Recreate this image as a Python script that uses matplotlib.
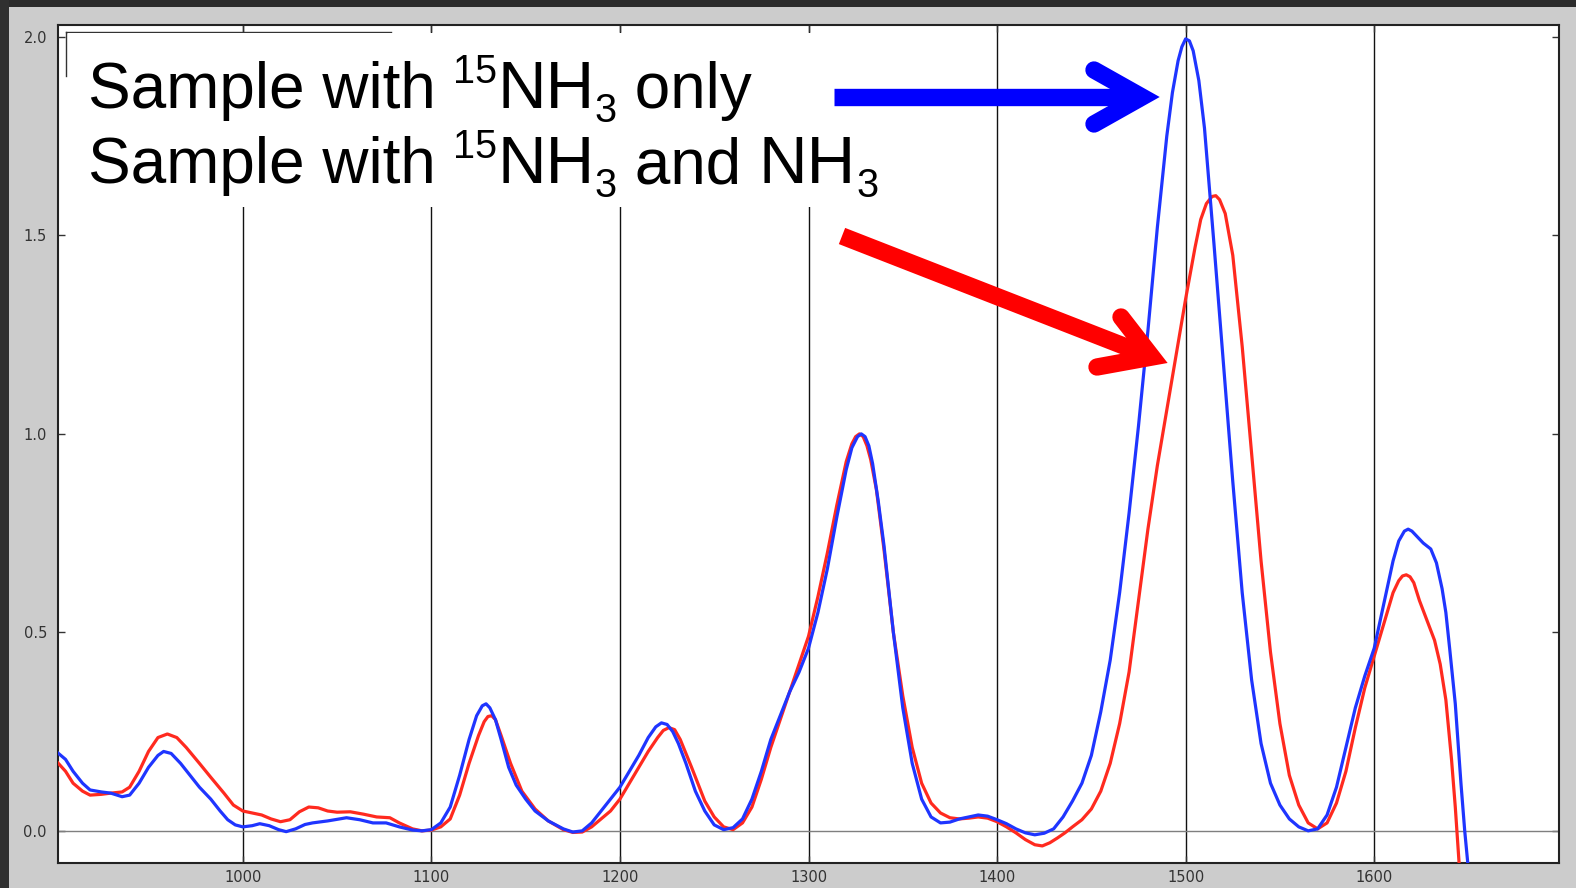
import matplotlib
matplotlib.use("Agg")
import matplotlib.pyplot as plt
from matplotlib.patches import Rectangle
from matplotlib.lines import Line2D

W, H, DPI = 1576, 888, 100

# Wavenumber (cm^-1) and intensity for the 15NH3-only sample
x_15nh3 = [902, 906, 910, 915, 919, 925, 930, 936, 940, 945, 950, 955, 958, 962, 967, 972, 977,
           983, 988, 992, 996, 1000, 1005, 1009, 1014, 1019, 1023, 1028, 1033, 1037, 1045, 1055,
           1062, 1069, 1076, 1083, 1090, 1095, 1100, 1105, 1110, 1115, 1120, 1124, 1127, 1129,
           1131, 1134, 1137, 1141, 1145, 1150, 1155, 1162, 1170, 1175, 1180, 1185, 1190, 1195,
           1200, 1205, 1210, 1215, 1219, 1222, 1225, 1228, 1231, 1235, 1240, 1245, 1250, 1255,
           1260, 1265, 1270, 1275, 1280, 1285, 1290, 1295, 1300, 1305, 1310, 1315, 1320, 1323,
           1326, 1328, 1330, 1332, 1334, 1337, 1340, 1345, 1350, 1355, 1360, 1365, 1370, 1375,
           1380, 1385, 1390, 1395, 1400, 1405, 1410, 1415, 1420, 1425, 1430, 1435, 1440, 1445,
           1450, 1455, 1460, 1465, 1470, 1475, 1480, 1485, 1490, 1493, 1496, 1498, 1500, 1502,
           1504, 1507, 1510, 1515, 1520, 1525, 1530, 1535, 1540, 1545, 1550, 1555, 1560, 1565,
           1570, 1575, 1580, 1585, 1590, 1595, 1600, 1605, 1610, 1613, 1616, 1618, 1620, 1623,
           1626, 1630, 1633, 1636, 1638, 1640, 1643, 1646, 1648, 1650, 1652]
y_15nh3 = [0.196, 0.18, 0.15, 0.12, 0.103, 0.098, 0.095, 0.086, 0.09, 0.12, 0.16, 0.19, 0.20,
           0.195, 0.17, 0.14, 0.11, 0.08, 0.05, 0.028, 0.015, 0.01, 0.013, 0.018, 0.013, 0.003,
           -0.002, 0.005, 0.016, 0.02, 0.025, 0.033, 0.028, 0.02, 0.02, 0.01, 0.002, 0.0, 0.003,
           0.02, 0.06, 0.14, 0.23, 0.29, 0.315, 0.32, 0.31, 0.28, 0.23, 0.16, 0.115, 0.08, 0.05,
           0.025, 0.005, -0.003, 0.0, 0.02, 0.05, 0.08, 0.11, 0.15, 0.19, 0.235, 0.262, 0.272,
           0.268, 0.25, 0.22, 0.17, 0.10, 0.05, 0.015, 0.003, 0.008, 0.03, 0.08, 0.15, 0.23,
           0.29, 0.35, 0.40, 0.46, 0.55, 0.66, 0.79, 0.91, 0.965, 0.993, 1.0, 0.993, 0.97, 0.925,
           0.83, 0.72, 0.50, 0.31, 0.17, 0.08, 0.035, 0.02, 0.022, 0.03, 0.035, 0.04, 0.037,
           0.028, 0.018, 0.005, -0.005, -0.01, -0.006, 0.005, 0.035, 0.075, 0.12, 0.19, 0.30,
           0.43, 0.60, 0.80, 1.02, 1.26, 1.52, 1.75, 1.86, 1.94, 1.975, 1.995, 1.99, 1.965, 1.89,
           1.77, 1.48, 1.18, 0.88, 0.60, 0.38, 0.22, 0.12, 0.065, 0.03, 0.01, 0.0, 0.005, 0.04,
           0.11, 0.21, 0.31, 0.39, 0.46, 0.57, 0.68, 0.73, 0.755, 0.76, 0.755, 0.74, 0.725, 0.71,
           0.675, 0.61, 0.55, 0.46, 0.32, 0.12, 0.0, -0.1, -0.2]

# Wavenumber (cm^-1) and intensity for the 15NH3 + NH3 sample
x_mixed = [902, 906, 910, 915, 919, 925, 930, 936, 940, 945, 950, 955, 960, 965, 970, 977, 983,
           990, 995, 1000, 1005, 1010, 1015, 1020, 1025, 1030, 1035, 1040, 1045, 1050, 1057, 1064,
           1071, 1078, 1083, 1090, 1095, 1100, 1105, 1110, 1115, 1120, 1125, 1128, 1130, 1132,
           1134, 1137, 1142, 1148, 1155, 1162, 1170, 1175, 1180, 1185, 1190, 1195, 1200, 1205,
           1210, 1215, 1220, 1223, 1226, 1229, 1232, 1238, 1245, 1250, 1255, 1260, 1265, 1270,
           1275, 1280, 1285, 1290, 1295, 1300, 1305, 1310, 1315, 1320, 1323, 1325, 1327, 1329,
           1331, 1333, 1336, 1340, 1345, 1350, 1355, 1360, 1365, 1370, 1375, 1380, 1385, 1390,
           1395, 1400, 1405, 1410, 1415, 1420, 1424, 1428, 1432, 1436, 1440, 1445, 1450, 1455,
           1460, 1465, 1470, 1475, 1480, 1485, 1490, 1495, 1500, 1505, 1508, 1511, 1514, 1516,
           1518, 1521, 1525, 1530, 1535, 1540, 1545, 1550, 1555, 1560, 1565, 1570, 1575, 1580,
           1585, 1590, 1595, 1600, 1605, 1610, 1613, 1615, 1617, 1619, 1621, 1624, 1628, 1632,
           1635, 1638, 1641, 1643, 1645, 1647]
y_mixed = [0.171, 0.15, 0.12, 0.10, 0.09, 0.092, 0.095, 0.098, 0.11, 0.15, 0.20, 0.235, 0.244,
           0.235, 0.21, 0.17, 0.135, 0.095, 0.065, 0.05, 0.045, 0.04, 0.03, 0.023, 0.028, 0.048,
           0.06, 0.058, 0.05, 0.047, 0.048, 0.042, 0.035, 0.033, 0.02, 0.005, 0.0, 0.002, 0.01,
           0.03, 0.09, 0.17, 0.24, 0.275, 0.288, 0.29, 0.28, 0.24, 0.17, 0.10, 0.055, 0.025,
           0.003, -0.004, -0.003, 0.01, 0.03, 0.05, 0.08, 0.12, 0.16, 0.20, 0.235, 0.253, 0.26,
           0.255, 0.23, 0.16, 0.075, 0.035, 0.01, 0.003, 0.02, 0.06, 0.13, 0.21, 0.28, 0.35,
           0.42, 0.49, 0.59, 0.70, 0.82, 0.93, 0.975, 0.993, 1.0, 0.993, 0.97, 0.935, 0.86, 0.71,
           0.50, 0.34, 0.21, 0.12, 0.07, 0.045, 0.033, 0.03, 0.032, 0.035, 0.032, 0.023, 0.01,
           -0.005, -0.022, -0.035, -0.038, -0.03, -0.018, -0.005, 0.01, 0.028, 0.055, 0.10, 0.17,
           0.27, 0.40, 0.58, 0.76, 0.92, 1.06, 1.20, 1.34, 1.47, 1.54, 1.58, 1.598, 1.60, 1.59,
           1.555, 1.45, 1.22, 0.95, 0.68, 0.45, 0.27, 0.14, 0.065, 0.02, 0.005, 0.02, 0.07, 0.15,
           0.26, 0.36, 0.44, 0.52, 0.60, 0.63, 0.642, 0.645, 0.64, 0.625, 0.58, 0.53, 0.48, 0.42,
           0.33, 0.18, 0.06, -0.08, -0.2]

x_ticks = [1000, 1100, 1200, 1300, 1400, 1500, 1600]
y_ticks = [0.0, 0.5, 1.0, 1.5, 2.0]


def px_x(p):
    return p / W


def px_y(p):
    return 1 - p / H


fig = plt.figure(figsize=(W / DPI, H / DPI), dpi=DPI, facecolor="#cccccc")

# dark window border strips
fig.patches.append(Rectangle((0, px_y(7)), 1, 7 / H, transform=fig.transFigure,
                             facecolor="#2b2b2b", edgecolor="none", zorder=0))
fig.patches.append(Rectangle((0, 0), 8.5 / W, 1, transform=fig.transFigure,
                             facecolor="#303030", edgecolor="none", zorder=0))

left, right, top, bottom = 58, 1559, 25, 863
ax = fig.add_axes([px_x(left), px_y(bottom), (right - left) / W, (bottom - top) / H])
ax.set_facecolor("white")

ax.plot(x_mixed, y_mixed, color="#ff2a1f", lw=2.3, zorder=3)
ax.plot(x_15nh3, y_15nh3, color="#1f35ff", lw=2.3, zorder=4)
ax.axhline(0, color="#7f7f7f", lw=1.0, zorder=2)

ax.set_xlim(902, 1698)
ax.set_ylim(-0.081, 2.03)
ax.set_xticks(x_ticks)
ax.set_yticks(y_ticks)
ax.set_xticklabels([str(t) for t in x_ticks])
ax.set_yticklabels([f"{t:.1f}" for t in y_ticks])
ax.grid(axis="x", color="#111111", lw=1.0, zorder=1)
ax.tick_params(direction="in", length=5, width=1, colors="#333333", labelsize=10.5,
               top=True, right=True)
ax.tick_params(axis="x", pad=5)
ax.tick_params(axis="y", pad=8)
for s in ax.spines.values():
    s.set_color("#222222")
    s.set_linewidth(1.5)

# partially hidden legend frame
fig.add_artist(Line2D([px_x(66), px_x(391)], [px_y(32), px_y(32)], color="#333333", lw=1.0,
                      transform=fig.transFigure, zorder=5))
fig.add_artist(Line2D([px_x(66), px_x(66)], [px_y(32), px_y(76)], color="#333333", lw=1.0,
                      transform=fig.transFigure, zorder=5))

# white caption panel
fig.add_artist(Rectangle((px_x(68), px_y(207)), (822 - 68) / W, (207 - 33) / H,
                         transform=fig.transFigure, facecolor="white", edgecolor="none",
                         zorder=6))

renderer = fig.canvas.get_renderer()
FONT = "Liberation Sans"


def rich_line(x0, base, pieces):
    x = x0
    for txt, size, shift in pieces:
        t = fig.text(px_x(x), px_y(base - shift), txt, fontsize=size, family=FONT,
                     color="black", ha="left", va="baseline", zorder=7)
        x += t.get_window_extent(renderer).width


BIG, CHEM, SUP = 46, 48.5, 28.5
rich_line(88, 108, [("Sample with ", BIG, 0), ("15", SUP, 25), ("NH", CHEM, 0),
                    ("3", SUP, -14), (" only", BIG, 0)])
rich_line(88, 183, [("Sample with ", BIG, 0), ("15", SUP, 25), ("NH", CHEM, 0),
                    ("3", SUP, -14), (" and ", BIG, 0), ("NH", CHEM, 0), ("3", SUP, -14)])


def arrow(tail, vertex, arm1, arm2, color, lw):
    fig.add_artist(Line2D([px_x(tail[0]), px_x(vertex[0])], [px_y(tail[1]), px_y(vertex[1])],
                          color=color, lw=lw, solid_capstyle="butt",
                          transform=fig.transFigure, zorder=8))
    fig.add_artist(Line2D([px_x(arm1[0]), px_x(vertex[0]), px_x(arm2[0])],
                          [px_y(arm1[1]), px_y(vertex[1]), px_y(arm2[1])],
                          color=color, lw=lw, solid_capstyle="round",
                          solid_joinstyle="miter", transform=fig.transFigure, zorder=8))


arrow((834, 97), (1142, 97), (1094, 70), (1094, 124), "#0000ff", 12.5)
arrow((842, 236), (1152, 357), (1121, 317), (1097, 367), "#ff0000", 12.5)

fig.savefig("out.png", dpi=DPI, facecolor=fig.get_facecolor())
